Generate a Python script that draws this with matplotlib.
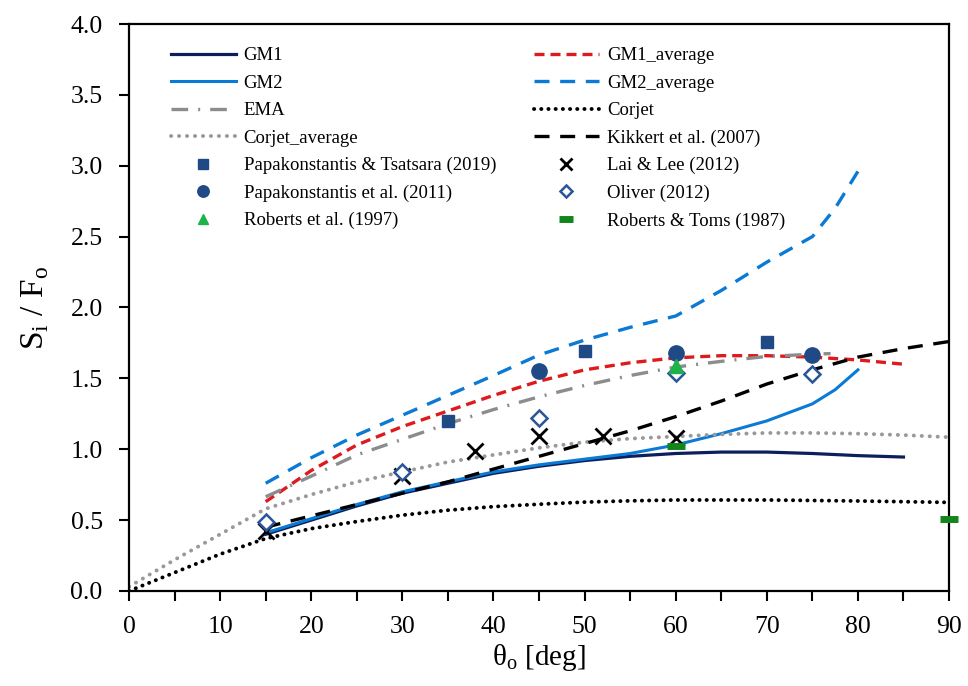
import matplotlib
matplotlib.use('Agg')
import matplotlib.pyplot as plt
import numpy as np
from matplotlib.ticker import MultipleLocator

plt.rcParams['font.family'] = ['Liberation Serif', 'DejaVu Serif']
plt.rcParams['mathtext.fontset'] = 'custom'
plt.rcParams['mathtext.rm'] = 'Liberation Serif'

# curves
x_gm1 = [15, 20, 25, 30, 35, 40, 45, 50, 55, 60, 65, 70, 75, 80, 85]
y_gm1 = [0.40, 0.50, 0.60, 0.69, 0.76, 0.83, 0.88, 0.92, 0.95, 0.97, 0.98, 0.98, 0.97, 0.955, 0.945]

x_gm2 = [15, 20, 25, 30, 35, 40, 45, 50, 55, 60, 65, 70, 75, 77.5, 80]
y_gm2 = [0.41, 0.51, 0.61, 0.70, 0.77, 0.84, 0.89, 0.93, 0.97, 1.03, 1.11, 1.20, 1.32, 1.42, 1.56]

x_gm1_avg = [15, 20, 25, 30, 35, 40, 45, 50, 55, 60, 65, 70, 75, 80, 85]
y_gm1_avg = [0.63, 0.85, 1.03, 1.16, 1.27, 1.38, 1.48, 1.56, 1.61, 1.645, 1.66, 1.66, 1.65, 1.63, 1.60]

x_gm2_avg = [15, 20, 25, 30, 35, 40, 45, 50, 55, 60, 65, 70, 75, 77.5, 80]
y_gm2_avg = [0.76, 0.94, 1.10, 1.24, 1.38, 1.52, 1.665, 1.77, 1.86, 1.94, 2.12, 2.32, 2.50, 2.70, 2.96]

x_ema = [15, 20, 25, 30, 35, 40, 45, 50, 55, 60, 65, 70, 75, 77]
y_ema = [0.665, 0.81, 0.96, 1.07, 1.18, 1.28, 1.37, 1.45, 1.52, 1.58, 1.62, 1.655, 1.67, 1.675]

x_corjet = [0, 5, 10, 15, 20, 25, 30, 35, 40, 45, 50, 55, 60, 70, 80, 90]
y_corjet = [0.0, 0.13, 0.26, 0.37, 0.44, 0.49, 0.535, 0.57, 0.595, 0.612, 0.627, 0.636, 0.642, 0.642, 0.635, 0.625]

x_corjet_avg = [0, 5, 10, 15, 20, 25, 30, 35, 40, 45, 50, 55, 60, 65, 70, 75, 80, 85, 90]
y_corjet_avg = [0.03, 0.22, 0.40, 0.58, 0.68, 0.77, 0.84, 0.91, 0.96, 1.01, 1.05, 1.075, 1.09, 1.105, 1.115, 1.115, 1.11, 1.10, 1.085]

x_kik = [15, 20, 25, 30, 35, 40, 45, 50, 55, 60, 65, 70, 75, 80, 85, 90]
y_kik = [0.45, 0.53, 0.61, 0.69, 0.77, 0.86, 0.95, 1.04, 1.13, 1.23, 1.34, 1.46, 1.56, 1.65, 1.71, 1.76]

# experimental points
x_pt = [35, 50, 70]
y_pt = [1.20, 1.69, 1.76]
x_pap = [45, 60, 75]
y_pap = [1.55, 1.68, 1.665]
x_rob97 = [60]
y_rob97 = [1.585]
x_lai = [15, 30, 38, 45, 52, 60]
y_lai = [0.42, 0.81, 0.99, 1.09, 1.095, 1.08]
x_oli = [15, 30, 45, 60, 75]
y_oli = [0.485, 0.84, 1.22, 1.54, 1.53]
x_rt = [60, 90]
y_rt = [1.025, 0.506]

fig = plt.figure(figsize=(9.68, 6.86), dpi=100)
ax = fig.add_axes([0.1333, 0.1385, 0.8471, 0.8265])

navy = '#0B1F5C'
blue = '#0A7AD4'
red = '#DD1A1E'
grey = '#8C8C8C'
mblue = '#1F4A85'

h_gm1, = ax.plot(x_gm1, y_gm1, color=navy, lw=2.3, label='GM1')
h_gm2, = ax.plot(x_gm2, y_gm2, color=blue, lw=2.2, label='GM2')
h_gm1a, = ax.plot(x_gm1_avg, y_gm1_avg, color=red, lw=2.4, dashes=(3, 1.8), label='GM1_average')
h_gm2a, = ax.plot(x_gm2_avg, y_gm2_avg, color=blue, lw=2.4, dashes=(4.5, 3.2), label='GM2_average')
h_ema, = ax.plot(x_ema, y_ema, color=grey, lw=2.4, dashes=(5, 3, 0.6, 3), label='EMA')
h_cor, = ax.plot(x_corjet, y_corjet, color='black', lw=2.8, dashes=(0.05, 1.8),
                 dash_capstyle='round', label='Corjet')
h_cora, = ax.plot(x_corjet_avg, y_corjet_avg, color='#999999', lw=2.8, dashes=(0.05, 2.0),
                  dash_capstyle='round', label='Corjet_average')
h_kik, = ax.plot(x_kik, y_kik, color='black', lw=2.4, dashes=(4.5, 3.2), label='Kikkert et al. (2007)')

h_pt, = ax.plot(x_pt, y_pt, 's', color=mblue, ms=9, ls='none', zorder=5, label='Papakonstantis & Tsatsara (2019)')
h_pap, = ax.plot(x_pap, y_pap, 'o', color=mblue, ms=11, ls='none', zorder=5, label='Papakonstantis et al. (2011)')
h_r97, = ax.plot(x_rob97, y_rob97, '^', color='#1DB34B', ms=10, ls='none', zorder=6, label='Roberts et al. (1997)')
h_lai, = ax.plot(x_lai, y_lai, 'x', color='black', ms=11, mew=2, ls='none', zorder=5, label='Lai & Lee (2012)')
h_oli, = ax.plot(x_oli, y_oli, 'D', mfc='white', mec='#2A5597', mew=1.8, ms=8.5, ls='none', zorder=5, label='Oliver (2012)')
h_rt, = ax.plot(x_rt, y_rt, '_', color='#12851B', ms=13, mew=5, ls='none', zorder=6, clip_on=False, label='Roberts & Toms (1987)')

handles = [h_gm1, h_gm2, h_ema, h_cora, h_pt, h_pap, h_r97,
           h_gm1a, h_gm2a, h_cor, h_kik, h_lai, h_oli, h_rt]
ax.legend(handles=handles, ncol=2, frameon=False, fontsize=13.5,
          loc='upper left', bbox_to_anchor=(0.03, 0.989),
          handlelength=3.5, handletextpad=0.4, columnspacing=2.0,
          labelspacing=0.55, markerscale=0.75)

ax.set_xlim(0, 90)
ax.set_ylim(0, 4.0)
ax.xaxis.set_major_locator(MultipleLocator(10))
ax.xaxis.set_minor_locator(MultipleLocator(5))
ax.yaxis.set_major_locator(MultipleLocator(0.5))
ax.yaxis.set_major_formatter(plt.FormatStrFormatter('%.1f'))
ax.tick_params(axis='both', which='both', direction='out', length=7, width=1.5,
               labelsize=18.5, top=False, right=False)
ax.tick_params(axis='x', pad=11)
ax.tick_params(axis='y', pad=12)
for s in ax.spines.values():
    s.set_linewidth(1.6)

ax.set_xlabel(r'$\mathregular{\theta_o}$ [deg]', fontsize=21, labelpad=3)
ax.set_ylabel(r'S$_\mathregular{i}$ / F$_\mathregular{o}$', fontsize=24, labelpad=14)

fig.savefig('out.png', dpi=100)
